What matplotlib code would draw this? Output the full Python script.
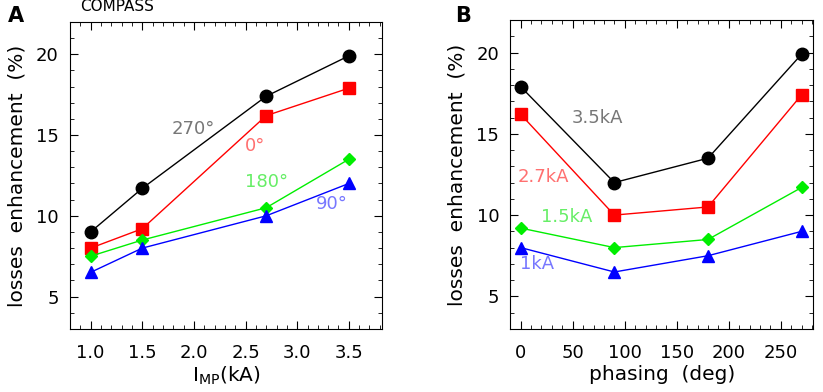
import matplotlib
matplotlib.use("Agg")
import matplotlib.pyplot as plt
from matplotlib.ticker import MultipleLocator

# panel A: losses vs coil current, one line per phasing
current = [1.0, 1.5, 2.7, 3.5]
a_270 = [9.0, 11.7, 17.4, 19.9]
a_0 = [8.0, 9.2, 16.2, 17.9]
a_180 = [7.5, 8.5, 10.5, 13.5]
a_90 = [6.5, 8.0, 10.0, 12.0]

# panel B: losses vs phasing, one line per current
phasing = [0, 90, 180, 270]
b_35 = [17.9, 12.0, 13.5, 19.9]
b_27 = [16.2, 10.0, 10.5, 17.4]
b_15 = [9.2, 8.0, 8.5, 11.7]
b_10 = [8.0, 6.5, 7.5, 9.0]

plt.rcParams['font.family'] = ['DejaVu Sans']

fig = plt.figure(figsize=(8.23, 3.92), dpi=100)
axA = fig.add_axes([0.085, 0.161, 0.379, 0.783])
axB = fig.add_axes([0.620, 0.161, 0.368, 0.788])


def style(ax):
    ax.set_ylim(3, 22)
    ax.yaxis.set_major_locator(MultipleLocator(5))
    ax.yaxis.set_minor_locator(MultipleLocator(1))
    ax.tick_params(which='both', direction='in', top=True, right=True, labelsize=13)
    ax.tick_params(which='major', length=6, pad=8)
    ax.tick_params(axis='x', which='major', pad=11)
    ax.tick_params(which='minor', length=3)
    ax.set_ylabel("losses  enhancement  (%)", fontsize=14.5, labelpad=7)


# panel A
axA.plot(current, a_270, color='black', marker='o', ms=9, lw=1)
axA.plot(current, a_0, color='red', marker='s', ms=9, lw=1)
axA.plot(current, a_180, color='#00ee00', marker='D', ms=6, lw=1)
axA.plot(current, a_90, color='blue', marker='^', ms=8, lw=1)
axA.set_xlim(0.8, 3.82)
axA.xaxis.set_major_locator(MultipleLocator(0.5))
axA.xaxis.set_minor_locator(MultipleLocator(0.1))
style(axA)
axA.set_xlabel("I$_{\\mathregular{MP}}$(kA)", fontsize=14.5, labelpad=2)
axA.text(1.99, 15.4, "270°", color='#777777', fontsize=13, ha='center', va='center')
axA.text(2.59, 14.3, "0°", color='#ff7070', fontsize=13, ha='center', va='center')
axA.text(2.70, 12.1, "180°", color='#66ee66', fontsize=13, ha='center', va='center')
axA.text(3.34, 10.7, "90°", color='#7777ff', fontsize=13, ha='center', va='center')
fig.text(0.097, 0.983, "COMPASS", fontsize=11, ha='left', va='center')
fig.text(0.010, 0.960, "A", fontsize=15, fontweight='bold', ha='left', va='center')

# panel B
axB.plot(phasing, b_35, color='black', marker='o', ms=9, lw=1)
axB.plot(phasing, b_27, color='red', marker='s', ms=9, lw=1)
axB.plot(phasing, b_15, color='#00ee00', marker='D', ms=6, lw=1)
axB.plot(phasing, b_10, color='blue', marker='^', ms=8, lw=1)
axB.set_xlim(-10, 281)
axB.xaxis.set_major_locator(MultipleLocator(50))
axB.xaxis.set_minor_locator(MultipleLocator(10))
style(axB)
axB.set_xlabel("phasing  (deg)", fontsize=14.5, labelpad=2)
axB.text(74, 16.0, "3.5kA", color='#777777', fontsize=13, ha='center', va='center')
axB.text(22, 12.35, "2.7kA", color='#ff7070', fontsize=13, ha='center', va='center')
axB.text(44, 9.9, "1.5kA", color='#66ee66', fontsize=13, ha='center', va='center')
axB.text(16, 7.0, "1kA", color='#7777ff', fontsize=13, ha='center', va='center')
fig.text(0.553, 0.960, "B", fontsize=15, fontweight='bold', ha='left', va='center')

plt.savefig("out.png", dpi=100)
